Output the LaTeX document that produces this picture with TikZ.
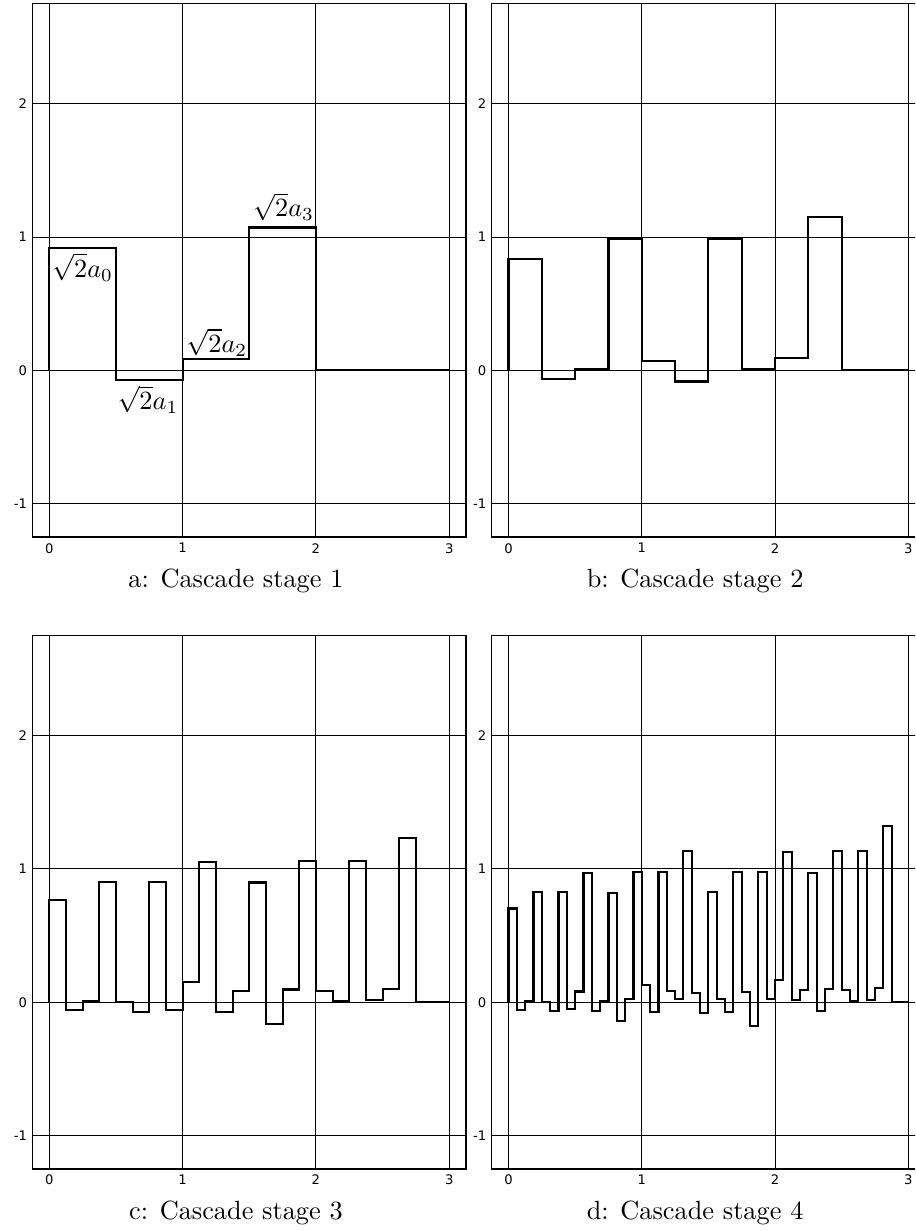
\documentclass[tikz,border=0pt]{standalone}
\usepackage{fontspec}
\newfontfamily\tickfont{DejaVu Sans}
\ExplSyntaxOn
\fp_const:Nn \c_my_al_fp { pi / 20 }
\fp_const:Nn \c_my_ca_fp { (1 + cos(\c_my_al_fp) - sin(\c_my_al_fp)) / 2 }
\fp_const:Nn \c_my_cb_fp { (1 - cos(\c_my_al_fp) - sin(\c_my_al_fp)) / 2 }
\fp_const:Nn \c_my_cc_fp { (1 - cos(\c_my_al_fp) + sin(\c_my_al_fp)) / 2 }
\fp_const:Nn \c_my_cd_fp { (1 + cos(\c_my_al_fp) + sin(\c_my_al_fp)) / 2 }
\cs_new:Npn \my_get:nn #1#2
  { \cs_if_exist_use:cF { my_v_ #1 _ #2 } { 0 } }
\cs_new_protected:Npn \my_stage:nnn #1#2#3
  {
    \int_step_inline:nnn { 0 } { #3 - 1 }
      {
        \tl_set:cx { my_v_ \int_eval:n { #1 + 1 } _ ##1 }
          {
            \fp_eval:n
              {
                \c_my_ca_fp * ( \my_get:nn {#1} {##1} )
                + \c_my_cb_fp * ( \my_get:nn {#1} { \int_eval:n { ##1 - #2 } } )
                + \c_my_cc_fp * ( \my_get:nn {#1} { \int_eval:n { ##1 - 2 * #2 } } )
                + \c_my_cd_fp * ( \my_get:nn {#1} { \int_eval:n { ##1 - 3 * #2 } } )
              }
          }
      }
  }
\tl_set:cn { my_v_0_0 } { 1 }
\my_stage:nnn {0} {1} {4}
\my_stage:nnn {1} {2} {10}
\my_stage:nnn {2} {4} {22}
\my_stage:nnn {3} {8} {46}
\cs_new_protected:Npn \my_path:Nnnn #1#2#3#4
  {
    \tl_set:Nn #1 { (0,0) }
    \int_step_inline:nnn { 0 } { #4 - 1 }
      {
        \tl_put_right:Nx #1
          {
            --( \fp_eval:n { round( ##1 * #3 , 5 ) } , \fp_eval:n { round( \use:c { my_v_ #2 _ ##1 } , 5 ) } )
            --( \fp_eval:n { round( (##1 + 1) * #3 , 5 ) } , \fp_eval:n { round( \use:c { my_v_ #2 _ ##1 } , 5 ) } )
          }
      }
    \tl_put_right:Nx #1 { --( \fp_eval:n { round( #4 * #3 , 5 ) } , 0 ) --(3,0) }
  }
\my_path:Nnnn \mypathA {1} {0.5} {4}
\my_path:Nnnn \mypathB {2} {0.25} {10}
\my_path:Nnnn \mypathC {3} {0.125} {22}
\my_path:Nnnn \mypathD {4} {0.0625} {46}
\tl_set:Nx \mycA { \fp_eval:n { round( \c_my_ca_fp , 5 ) } }
\tl_set:Nx \mycB { \fp_eval:n { round( \c_my_cb_fp , 5 ) } }
\tl_set:Nx \mycC { \fp_eval:n { round( \c_my_cc_fp , 5 ) } }
\tl_set:Nx \mycD { \fp_eval:n { round( \c_my_cd_fp , 5 ) } }
\ExplSyntaxOff
\tikzset{
  gridline/.style={line width=0.4pt, black},
  frameline/.style={line width=0.5pt, black},
  stepline/.style={line width=0.8pt, black, line join=miter},
  ticklab/.style={inner sep=0pt, font=\tickfont\fontsize{5}{6}\selectfont},
  xtick/.style={ticklab, anchor=north, yshift=-2.2pt},
  ytick/.style={ticklab, anchor=east, xshift=-1.9pt},
  caplab/.style={anchor=base, inner sep=0pt, font=\fontsize{10}{12}\selectfont},
  mathlab/.style={inner sep=0pt, font=\fontsize{10}{12}\selectfont},
  panelscope/.style={x=50.654pt, y=50.654pt},
}
\newcommand\myGrid[1]{%
  \foreach \g in {0,1,2,3} {\draw[gridline] (\g,-1.25) -- (\g,2.75);}
  \foreach \g in {-1,0,1,2} {\draw[gridline] (-0.125,\g) -- (3.125,\g);}
  \draw[frameline] (-0.125,-1.25) rectangle (3.125,2.75);
  \foreach \g in {0,1,2,3} {\node[xtick] (#1x\g) at (\g,-1.25) {\g};}
  \foreach \g in {-1,0,1,2} {\node[ytick] (#1y\g) at (-0.125,\g) {\g};}
}
\begin{document}
\begin{tikzpicture}
\useasboundingbox (0,0) rectangle (347.7pt,-467.4pt);
\clip (0,0) rectangle (347.7pt,-467.4pt);
% panel a
\begin{scope}[shift={(18.734pt,-140.75pt)}, panelscope]
  \myGrid{a}
  \edef\mytmp{\noexpand\draw[stepline] \mypathA;}\mytmp
  \node[mathlab, anchor=north west, xshift=0.9pt, yshift=-1.7pt] (la0) at (0,\mycA) {$\sqrt{2}a_0$};
  \node[mathlab, anchor=north, yshift=-2pt] (la1) at (0.74,\mycB) {$\sqrt{2}a_1$};
  \node[mathlab, anchor=south west, xshift=1.25pt, yshift=0.9pt] (la2) at (1,\mycC) {$\sqrt{2}a_2$};
  \node[mathlab, anchor=south west, xshift=1.3pt, yshift=2.3pt] (la3) at (1.5,\mycD) {$\sqrt{2}a_3$};
  \node[caplab] (capa) at (1.4,-1.627) {a: Cascade stage 1};
\end{scope}
% panel b
\begin{scope}[shift={(193.22pt,-140.75pt)}, panelscope]
  \myGrid{b}
  \edef\mytmp{\noexpand\draw[stepline] \mypathB;}\mytmp
  \node[caplab] (capb) at (1.4,-1.627) {b: Cascade stage 2};
\end{scope}
% panel c
\begin{scope}[shift={(18.734pt,-380.84pt)}, panelscope]
  \myGrid{c}
  \edef\mytmp{\noexpand\draw[stepline] \mypathC;}\mytmp
  \node[caplab] (capc) at (1.4,-1.627) {c: Cascade stage 3};
\end{scope}
% panel d
\begin{scope}[shift={(193.22pt,-380.84pt)}, panelscope]
  \myGrid{d}
  \edef\mytmp{\noexpand\draw[stepline] \mypathD;}\mytmp
  \node[caplab] (capd) at (1.4,-1.627) {d: Cascade stage 4};
\end{scope}
\end{tikzpicture}
\end{document}
